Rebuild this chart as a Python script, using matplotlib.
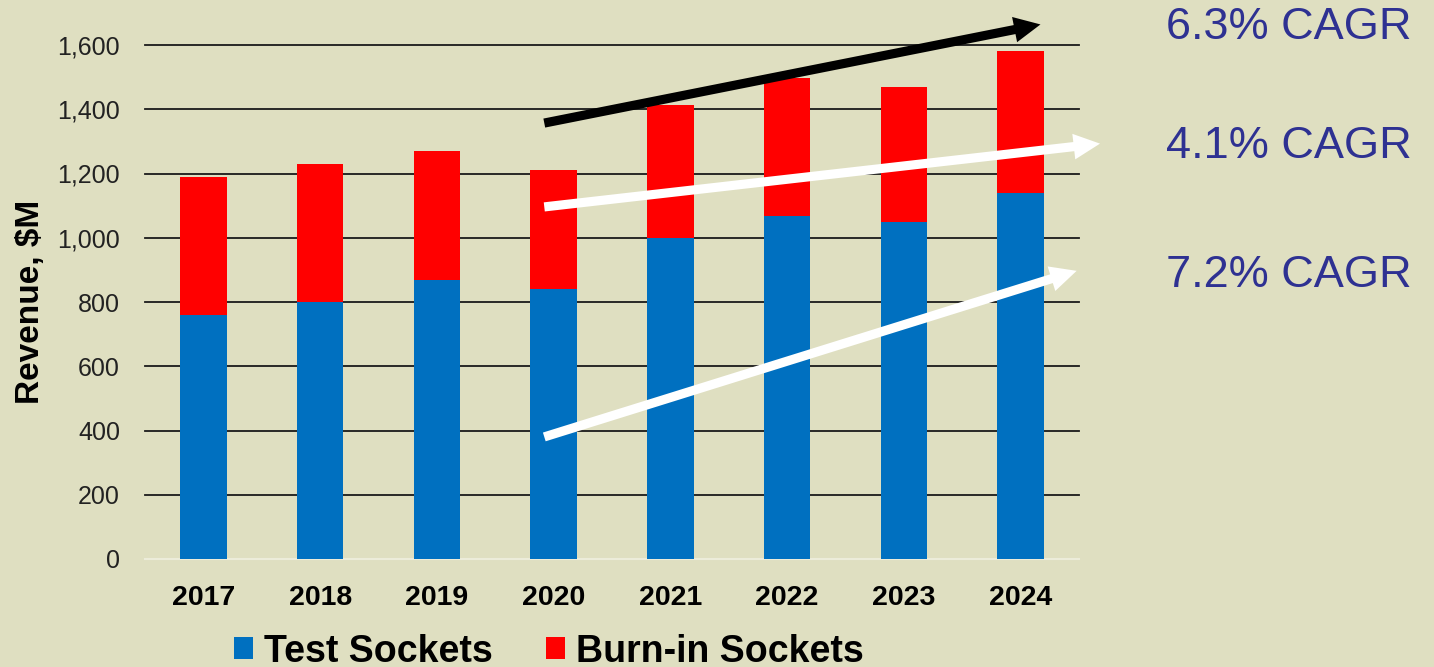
import matplotlib
matplotlib.use("Agg")
import matplotlib.pyplot as plt

years = ["2017", "2018", "2019", "2020", "2021", "2022", "2023", "2024"]
test_sockets = [760, 800, 868, 840, 998, 1068, 1048, 1138]
total_revenue = [1190, 1230, 1270, 1210, 1412, 1498, 1470, 1580]
burnin_sockets = [t - s for t, s in zip(total_revenue, test_sockets)]

y_ticks = [0, 200, 400, 600, 800, 1000, 1200, 1400, 1600]
y_tick_labels = ["0", "200", "400", "600", "800", "1,000", "1,200", "1,400", "1,600"]

# trend arrows (start -> tip, in data units) and their labels
arrow_start_x = [2.92, 2.92, 2.92]
arrow_start_y = [1357, 1096, 380]
arrow_tip_x = [7.17, 7.68, 7.48]
arrow_tip_y = [1664, 1293, 897]
arrow_colors = ["black", "white", "white"]
cagr_labels = ["6.3% CAGR", "4.1% CAGR", "7.2% CAGR"]

BG = "#DFDFC1"
BLUE = "#0070C0"
RED = "#FF0000"
TXT_BLUE = "#2E3192"

plt.rcParams["font.family"] = ["Liberation Sans", "DejaVu Sans"]

fig = plt.figure(figsize=(14.34, 6.67), dpi=100, facecolor=BG)
ax = fig.add_axes([145 / 1434, 1 - 559 / 667, (1079 - 145) / 1434, (559 - 45) / 667])
ax.set_facecolor(BG)

x = list(range(len(years)))
ax.bar(x, test_sockets, width=0.4, color=BLUE, zorder=3, label="Test Sockets")
ax.bar(x, burnin_sockets, width=0.4, bottom=test_sockets, color=RED, zorder=3, label="Burn-in Sockets")

ax.set_xlim(-0.5, 7.5)
ax.set_ylim(0, 1600)
ax.set_yticks(y_ticks)
ax.set_yticklabels(y_tick_labels)
ax.set_xticks(x)
ax.set_xticklabels(years, fontweight="bold")
ax.tick_params(axis="y", length=0, pad=18, labelsize=18, labelcolor="#222222")
ax.tick_params(axis="x", length=0, pad=19, labelsize=20.5)

for v in y_ticks[1:]:
    ax.axhline(v, color="#1a1a1a", lw=1.3, zorder=1, clip_on=False)
for s in ["top", "right", "left"]:
    ax.spines[s].set_visible(False)
ax.spines["bottom"].set_color("#ECECDA")
ax.spines["bottom"].set_linewidth(1.5)

fig.text(31 / 1434, 1 - 302 / 667, "Revenue, $M", rotation=90, ha="center", va="center",
         fontsize=24, fontweight="bold")

# trend arrows
for x0, y0, x1, y1, c in zip(arrow_start_x, arrow_start_y, arrow_tip_x, arrow_tip_y, arrow_colors):
    ax.annotate("", xy=(x1, y1), xytext=(x0, y0), annotation_clip=False, zorder=5,
                arrowprops=dict(arrowstyle="simple,head_length=1.9,head_width=1.85,tail_width=0.66",
                                mutation_scale=10, lw=0, color=c, shrinkA=0, shrinkB=0))

label_baselines = [39, 158, 287]
for lab, yb in zip(cagr_labels, label_baselines):
    fig.text(1412 / 1434, 1 - yb / 667, lab, ha="right", va="baseline", fontsize=32.5, color=TXT_BLUE)

ax.legend(loc="lower center", bbox_to_anchor=(549 / 1434, -0.004), bbox_transform=fig.transFigure,
          ncol=2, frameon=False, prop={"size": 27, "weight": "bold"}, handlelength=0.52,
          handleheight=0.52, handletextpad=0.3, columnspacing=1.4, borderpad=0, borderaxespad=0)

fig.savefig("out.png", dpi=100, facecolor=BG)
